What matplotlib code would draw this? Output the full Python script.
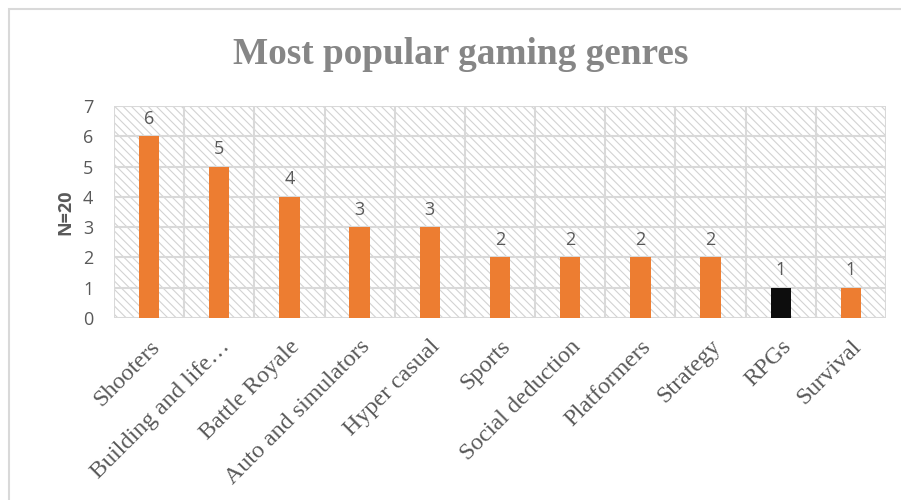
import matplotlib
matplotlib.use("Agg")
import matplotlib.pyplot as plt
from matplotlib.patches import Rectangle
import numpy as np

genres = ["Shooters", "Building and life\u2026", "Battle Royale", "Auto and simulators",
          "Hyper casual", "Sports", "Social deduction", "Platformers", "Strategy",
          "RPGs", "Survival"]
counts = [6, 5, 4, 3, 3, 2, 2, 2, 2, 1, 1]
bar_colors = ["#ED7D31"] * 9 + ["#0D0D0D", "#ED7D31"]

text_gray = "#595959"
grid_gray = "#D9D9D9"

plt.rcParams["hatch.linewidth"] = 0.8
plt.rcParams["hatch.color"] = "#D3D3D3"

fig = plt.figure(figsize=(9.01, 5.0), dpi=100)
# outer chart border (only left/top visible in the crop)
fig.patches.append(Rectangle((8.5 / 901, -0.1), 1.2, 1.1 - 9.5 / 500,
                             transform=fig.transFigure, fill=False,
                             edgecolor=grid_gray, linewidth=1.5))

ax = fig.add_axes([114 / 901, 1 - 318 / 500, (886 - 114) / 901, (318 - 106) / 500])
x = np.arange(len(genres))
ax.set_xlim(-0.5, len(genres) - 0.5)
ax.set_ylim(0, 7)

# hatched plot background
ax.add_patch(Rectangle((0, 0), 1, 1, transform=ax.transAxes, facecolor="white",
                       hatch="\\\\\\\\", edgecolor="#D3D3D3", linewidth=0, zorder=0))

# grid: horizontal at each integer, vertical at category boundaries
for yv in range(0, 8):
    ax.axhline(yv, color=grid_gray, linewidth=1.5, zorder=1)
for xv in np.arange(-0.5, len(genres) + 0.5, 1):
    ax.axvline(xv, color=grid_gray, linewidth=1.5, zorder=1)

ax.bar(x, counts, width=0.29, color=bar_colors, zorder=3)
for xi, c in zip(x, counts):
    ax.text(xi, c + 0.28, str(c), ha="center", va="bottom", fontsize=13,
            color=text_gray, family="Open Sans", zorder=4)

for s in ax.spines.values():
    s.set_visible(False)

ax.set_yticks(range(0, 8))
ax.set_yticklabels([str(v) for v in range(0, 8)], fontsize=13, color=text_gray,
                   family="Open Sans")
ax.set_xticks(x)
ax.set_xticklabels(genres, rotation=45, ha="right", rotation_mode="anchor",
                   fontsize=17.3, color=text_gray, family="Liberation Serif")
ax.tick_params(axis="both", length=0)
ax.tick_params(axis="x", pad=13)
ax.tick_params(axis="y", pad=15)

ax.set_ylabel("N=20", fontsize=13, fontweight="bold", color=text_gray,
              family="Open Sans", labelpad=6)

fig.text(461 / 901, 1 - 54 / 500, "Most popular gaming genres", ha="center", va="center",
         fontsize=26.8, fontweight="bold", color="#868686", family="Liberation Serif")

fig.savefig("out.png", dpi=100)
